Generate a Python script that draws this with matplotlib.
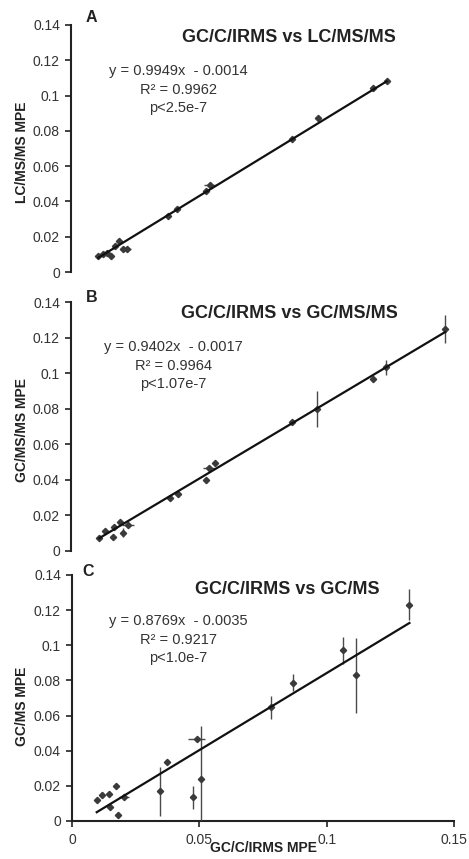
import matplotlib.pyplot as plt
from matplotlib.ticker import FuncFormatter

plt.rcParams['font.family'] = ['Liberation Sans', 'DejaVu Sans']

# Panel A: GC/C/IRMS vs LC/MS/MS
a_x = [0.0095, 0.0113, 0.0124, 0.0139, 0.0153, 0.0167, 0.0182, 0.0196,
       0.0339, 0.0368, 0.0470, 0.0484, 0.0772, 0.0862, 0.1054, 0.1100]
a_y = [0.0093, 0.0104, 0.0108, 0.0093, 0.0145, 0.0174, 0.0130, 0.0130,
       0.0316, 0.0357, 0.0457, 0.0495, 0.0754, 0.0873, 0.1043, 0.1081]
a_xerr = [0, 0, 0, 0, 0, 0, 0, 0.0014, 0, 0, 0, 0.0020, 0, 0, 0, 0]
a_yerr = [0, 0, 0, 0, 0, 0.0008, 0, 0, 0, 0, 0, 0, 0, 0, 0, 0]

# Panel B: GC/C/IRMS vs GC/MS/MS
b_x = [0.0095, 0.0115, 0.0143, 0.0147, 0.0169, 0.0181, 0.0198, 0.0347, 0.0374,
       0.0475, 0.0487, 0.0507, 0.0780, 0.0869, 0.1069, 0.1116, 0.1327]
b_y = [0.0075, 0.0111, 0.0079, 0.0135, 0.0163, 0.0103, 0.0148, 0.0299, 0.0318,
       0.0398, 0.0464, 0.0492, 0.0727, 0.0799, 0.0966, 0.1032, 0.1248]
b_xerr = [0, 0, 0, 0, 0, 0, 0.0022, 0, 0, 0, 0.0021, 0, 0, 0, 0, 0, 0]
b_yerr = [0, 0, 0, 0, 0.0010, 0.0025, 0, 0.0015, 0.0012, 0.0015, 0, 0, 0,
          0.0102, 0.0015, 0.0041, 0.0081]

# Panel C: GC/C/IRMS vs GC/MS
c_x = [0.0097, 0.0118, 0.0145, 0.0149, 0.0173, 0.0179, 0.0204, 0.0346, 0.0374,
       0.0474, 0.0490, 0.0507, 0.0780, 0.0869, 0.1065, 0.1115, 0.1325]
c_y = [0.0117, 0.0149, 0.0153, 0.0079, 0.0197, 0.0036, 0.0134, 0.0168, 0.0337,
       0.0134, 0.0467, 0.0238, 0.0647, 0.0787, 0.0972, 0.0829, 0.1232]
c_xerr = [0, 0, 0, 0, 0.0010, 0, 0.0020, 0, 0, 0, 0.0033, 0, 0, 0, 0, 0, 0]
c_yerr = [0, 0.0010, 0, 0, 0, 0, 0.0012, 0.0139, 0, 0.0064, 0, 0.0300,
          0.0066, 0.0047, 0.0076, 0.0215, 0.0086]

panels = [
    dict(letter="A", x=a_x, y=a_y, xerr=a_xerr, yerr=a_yerr,
         slope=0.9949, icpt=-0.0014,
         title="GC/C/IRMS vs LC/MS/MS", ylabel="LC/MS/MS MPE",
         eq="y = 0.9949x  - 0.0014", r2="R² = 0.9962", p="p<2.5e-7",
         xlim=(0, 0.1335)),
    dict(letter="B", x=b_x, y=b_y, xerr=b_xerr, yerr=b_yerr,
         slope=0.9402, icpt=-0.0017,
         title="GC/C/IRMS vs GC/MS/MS", ylabel="GC/MS/MS MPE",
         eq="y = 0.9402x  - 0.0017", r2="R² = 0.9964", p="p<1.07e-7",
         xlim=(-0.0006, 0.1359)),
    dict(letter="C", x=c_x, y=c_y, xerr=c_xerr, yerr=c_yerr,
         slope=0.8769, icpt=-0.0035,
         title="GC/C/IRMS vs GC/MS", ylabel="GC/MS MPE",
         eq="y = 0.8769x  - 0.0035", r2="R² = 0.9217", p="p<1.0e-7",
         xlim=(0, 0.15)),
]

W, H = 469, 859
# axes boxes in pixels: (left, top, right, bottom)
boxes = [(71, 25, 454, 272), (71, 302, 454, 551), (72, 575, 454, 821)]
# text anchors in pixels
letter_pos = [(91, 17), (92, 297), (88, 571)]
title_pos = [(289, 37), (289, 314), (287, 590)]
eq_pos = [(178, 71), (173, 347), (178, 621)]
ylabel_pos = [(22, 152), (22, 430), (22, 706)]

fig = plt.figure(figsize=(W / 100, H / 100), dpi=100)
fmt = FuncFormatter(lambda v, _: "%g" % round(v, 4))

for i, p in enumerate(panels):
    l, t, r, b = boxes[i]
    ax = fig.add_axes([l / W, 1 - b / H, (r - l) / W, (b - t) / H])
    ax.set_xlim(*p["xlim"])
    ax.set_ylim(0, 0.14)

    ax.errorbar(p["x"], p["y"], xerr=p["xerr"], yerr=p["yerr"], fmt="D",
                ms=3.2, color="#3a3a3a", ecolor="#4a4a4a", elinewidth=1.0,
                capsize=0, zorder=3)
    x0, x1 = min(p["x"]), max(p["x"])
    ax.plot([x0, x1], [p["slope"] * x0 + p["icpt"], p["slope"] * x1 + p["icpt"]],
            color="#111111", lw=1.6, zorder=4)

    ax.set_yticks([0, 0.02, 0.04, 0.06, 0.08, 0.1, 0.12, 0.14])
    ax.yaxis.set_major_formatter(fmt)
    ax.tick_params(axis="y", direction="out", length=4, width=1.2, pad=4,
                   labelsize=10, colors="#222222", labelcolor="#333333")
    for s in ["top", "right"]:
        ax.spines[s].set_visible(False)
    ax.spines["left"].set_linewidth(1.5)
    ax.spines["left"].set_color("#222222")
    if p["letter"] == "C":
        ax.set_xticks([0, 0.05, 0.1, 0.15])
        ax.xaxis.set_major_formatter(fmt)
        ax.tick_params(axis="x", direction="out", length=4, width=1.2, pad=5,
                       labelsize=10, colors="#222222", labelcolor="#333333")
        ax.spines["bottom"].set_linewidth(1.5)
        ax.spines["bottom"].set_color("#222222")
    else:
        ax.spines["bottom"].set_visible(False)
        ax.set_xticks([])

    lx, ly = letter_pos[i]
    fig.text(lx / W, 1 - ly / H, p["letter"], ha="center", va="center",
             fontsize=11.5, fontweight="bold", color="#222222")
    tx, ty = title_pos[i]
    fig.text(tx / W, 1 - ty / H, p["title"], ha="center", va="center",
             fontsize=13, fontweight="bold", color="#222222")
    ex, ey = eq_pos[i]
    for k, s in enumerate([p["eq"], p["r2"], p["p"]]):
        fig.text(ex / W, 1 - (ey + 18.5 * k) / H, s, ha="center", va="center",
                 fontsize=10.5, color="#333333")
    yx, yy = ylabel_pos[i]
    fig.text(yx / W, 1 - yy / H, p["ylabel"], ha="center", va="center",
             rotation=90, fontsize=10, fontweight="bold", color="#222222")

fig.text(263 / W, 1 - 848 / H, "GC/C/IRMS MPE", ha="center", va="center",
         fontsize=10, fontweight="bold", color="#222222")

fig.savefig("out.png", dpi=100)
